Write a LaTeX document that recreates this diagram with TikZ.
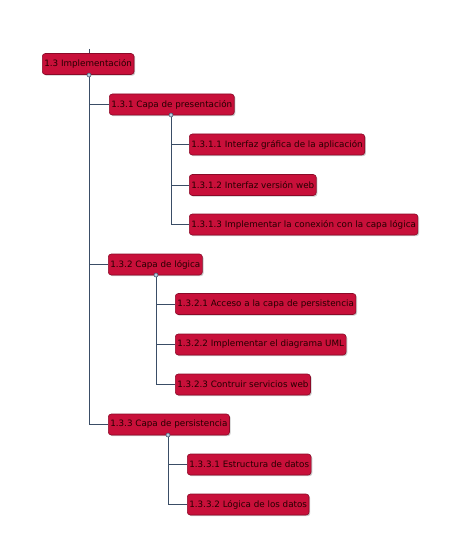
\documentclass[tikz,border=0pt]{standalone}
\usepackage{fontspec}
\setmainfont{DejaVu Sans}
\usetikzlibrary{shadows}
\definecolor{boxfill}{HTML}{C8103A}
\definecolor{boxdraw}{HTML}{8A0A28}
\definecolor{linecol}{HTML}{3A4D66}
\definecolor{dotfill}{HTML}{B8CFE0}
\tikzset{
  wbs/.style={draw=boxdraw, fill=boxfill, rounded corners=3bp, line width=0.6bp,
    minimum height=21bp, inner xsep=2bp, inner ysep=0pt, anchor=west,
    font=\fontsize{8.8}{10}\selectfont, text=black!85!red,
    drop shadow={shadow xshift=1.2bp, shadow yshift=-1.2bp, fill=black!35, opacity=0.6}},
  conn/.style={draw=linecol, line width=0.8bp},
  dot/.style={circle, draw=linecol, fill=dotfill, line width=0.5bp, inner sep=0pt, minimum size=4bp}
}
\begin{document}
\begin{tikzpicture}[x=1bp,y=-1bp]
\useasboundingbox (0,0) rectangle (449,534);
\node[wbs] (r) at (42,64) {1.3 Implementación};
\node[wbs] (a) at (109,104.5) {1.3.1 Capa de presentación};
\node[wbs] (a1) at (189,144.5) {1.3.1.1 Interfaz gráfica de la aplicación};
\node[wbs] (a2) at (189,185) {1.3.1.2 Interfaz versión web};
\node[wbs] (a3) at (189,224.5) {1.3.1.3 Implementar la conexión con la capa lógica};
\node[wbs] (b) at (108,264.5) {1.3.2 Capa de lógica};
\node[wbs] (b1) at (175,304) {1.3.2.1 Acceso a la capa de persistencia};
\node[wbs] (b2) at (175,344.5) {1.3.2.2 Implementar el diagrama UML};
\node[wbs] (b3) at (175,384.5) {1.3.2.3 Contruir servicios web};
\node[wbs] (c) at (108,424.5) {1.3.3 Capa de persistencia};
\node[wbs] (c1) at (187,464.5) {1.3.3.1 Estructura de datos};
\node[wbs] (c2) at (187,504.5) {1.3.3.2 Lógica de los datos};
\coordinate (top) at (89,49);
\coordinate (rb) at (89,75);
\coordinate (ab) at (171,115);
\coordinate (bb) at (156,275);
\coordinate (cb) at (168,435);
\draw[conn] (top) -- (rb |- r.north);
\draw[conn] (rb) |- (a.west);
\draw[conn] (rb) |- (b.west);
\draw[conn] (rb) |- (c.west);
\draw[conn] (ab) |- (a1.west);
\draw[conn] (ab) |- (a2.west);
\draw[conn] (ab) |- (a3.west);
\draw[conn] (bb) |- (b1.west);
\draw[conn] (bb) |- (b2.west);
\draw[conn] (bb) |- (b3.west);
\draw[conn] (cb) |- (c1.west);
\draw[conn] (cb) |- (c2.west);
\node[dot] (d0) at (rb) {};
\node[dot] (d1) at (ab) {};
\node[dot] (d2) at (bb) {};
\node[dot] (d3) at (cb) {};
\end{tikzpicture}
\end{document}
